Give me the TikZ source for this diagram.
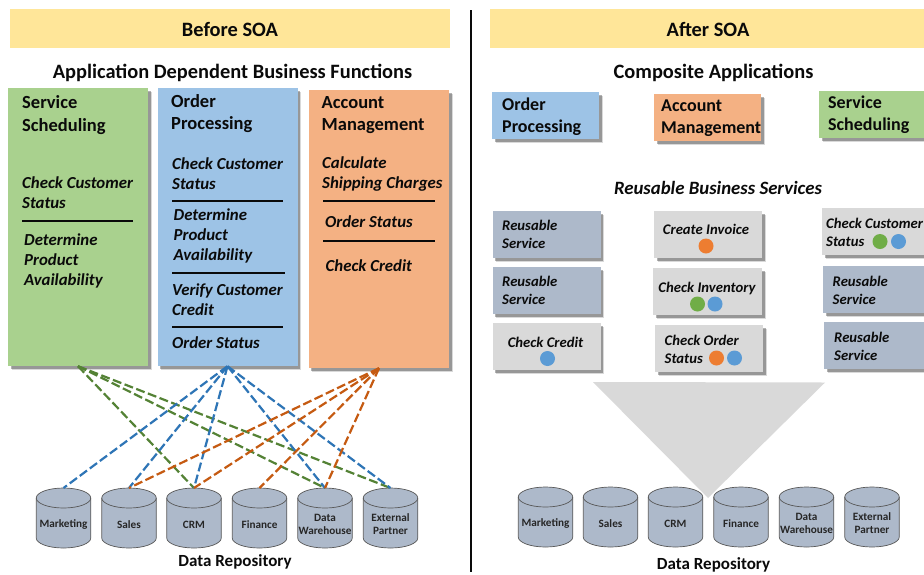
\documentclass[tikz,border=0pt]{standalone}
\usepackage{fontspec}
\setmainfont{Carlito}
\usetikzlibrary{shadows}
\definecolor{bannerc}{HTML}{FFE699}
\definecolor{greenc}{HTML}{A9D18E}
\definecolor{bluec}{HTML}{9DC3E6}
\definecolor{orangec}{HTML}{F4B183}
\definecolor{slatec}{HTML}{ADB9CA}
\definecolor{greyc}{HTML}{D9D9D9}
\definecolor{lgreen}{HTML}{548235}
\definecolor{lblue}{HTML}{2E75B6}
\definecolor{lorange}{HTML}{C55A11}
\definecolor{dgreen}{HTML}{70AD47}
\definecolor{dblue}{HTML}{5B9BD5}
\definecolor{dorange}{HTML}{ED7D31}
\definecolor{inkc}{HTML}{0A0A0A}
\tikzset{
  softshadow/.style={drop shadow={shadow xshift=3.5pt,shadow yshift=-3.5pt,opacity=.15,fill=black},
                     drop shadow={shadow xshift=2.5pt,shadow yshift=-2.5pt,opacity=.3,fill=black}},
  banner/.style={fill=bannerc,draw=none,inner sep=0pt,minimum width=#1,minimum height=39pt},
  panel/.style={softshadow,inner sep=0pt,minimum width=#1},
  heading/.style={font=\fontsize{20.4}{25}\selectfont\bfseries,text=inkc,inner sep=0pt},
  reposlabel/.style={font=\fontsize{17}{20}\selectfont\bfseries,text=inkc,inner sep=0pt},
  apphead/.style={font=\fontsize{18.5}{22.5}\selectfont\bfseries,text=inkc,inner sep=0pt,align=left,anchor=west},
  func/.style={font=\fontsize{16.8}{20}\selectfont\bfseries\itshape,text=inkc,inner sep=0pt,align=left,anchor=west},
  svc/.style={font=\fontsize{14.7}{18}\selectfont\bfseries\itshape,text=inkc,inner sep=0pt,align=left},
  divider/.style={draw=inkc,line width=1.2pt},
  dbframe/.style={inner sep=0pt,outer sep=0pt,minimum width=54.5pt,minimum height=60pt},
  dbshape/.style={draw=black!65,fill=slatec,line width=.7pt},
  dbtext/.style={inner sep=0pt,font=\fontsize{11.2}{13}\selectfont\bfseries,text=black!85,align=center},
  link/.style={dash pattern=on 9pt off 3.5pt,line width=2.2pt},
  dot/.style={circle,inner sep=0pt,minimum size=15pt,draw=none}
}
\newcommand{\dbcyl}[4]{%
  \node[dbframe] (#1) at (#2,#3) {};
  \draw[dbshape] (#1.north west) ++(0,10) arc[start angle=180,end angle=0,x radius=27.25pt,y radius=10pt]
     -- ++(0,40) arc[start angle=0,end angle=-180,x radius=27.25pt,y radius=10pt] -- cycle;
  \draw[dbshape,fill=none] (#1.north west) ++(0,10) arc[start angle=180,end angle=360,x radius=27.25pt,y radius=10pt];
  \node[dbtext] (#1t) at ([yshift=-6.5pt]#1.center) {#4};
}
\begin{document}
\begin{tikzpicture}[x=1pt,y=-1pt]
\useasboundingbox (0,0) rectangle (924,574);
\clip (0,0) rectangle (924,574);
\fill[white] (0,0) rectangle (924,574);

% banners and divider
\node[banner=440pt] (bl) at (230,28.5) {};
\node[banner=434pt] (br) at (707,28.5) {};
\node[heading] (blt) at (230,29) {Before SOA};
\node[heading] (brt) at (708,29) {After SOA};
\draw[line width=2pt,draw=inkc] (471,10) -- (471,572);
\node[heading] (lsub) at (232.5,72.5) {Application Dependent Business Functions};
\node[heading] (rsub) at (713.5,72.5) {Composite Applications};
\node[heading,font=\fontsize{18.8}{22}\selectfont\bfseries\itshape] (rsub2) at (718,187.5) {Reusable Business Services};

% left application columns
\node[panel=140pt,minimum height=278pt,fill=greenc] (green) at (78,227) {};
\node[panel=140pt,minimum height=278pt,fill=bluec] (blue) at (227.5,227) {};
\node[panel=140.5pt,minimum height=278pt,fill=orangec] (orange) at (379,229) {};

\node[apphead] (t1) at (22,115) {Service\\Scheduling};
\node[apphead] (t2) at (171,113.5) {Order\\Processing};
\node[apphead] (t3) at (321.5,115) {Account\\Management};

\node[func] (g1) at (22,192.5) {Check Customer\\Status};
\draw[divider] (22,221) -- (133,221);
\node[func] (g2) at (24,261) {Determine\\Product\\Availability};

\node[func] (b1) at (172,174) {Check Customer\\Status};
\draw[divider] (172,201) -- (283,201);
\node[func] (b2) at (173.5,236) {Determine\\Product\\Availability};
\draw[divider] (172,273) -- (285,273);
\node[func] (b3) at (172,299.5) {Verify Customer\\Credit};
\draw[divider] (172,327) -- (283,327);
\node[func] (b4) at (172,343) {Order Status};

\node[func] (o1) at (322,174.5) {Calculate\\Shipping Charges};
\draw[divider] (323,201) -- (435,201);
\node[func] (o2) at (325,222) {Order Status};
\draw[divider] (323,241) -- (435,241);
\node[func] (o3) at (325.5,266) {Check Credit};

% left databases
\dbcyl{m1}{63.5}{518}{Marketing}
\dbcyl{s1}{129}{518}{Sales}
\dbcyl{c1}{194}{518}{CRM}
\dbcyl{f1}{259.5}{518}{Finance}
\dbcyl{w1}{325}{518}{Data\\Warehouse}
\dbcyl{e1}{390.5}{518}{External\\Partner}
\node[reposlabel] (dr1) at (235,562) {Data Repository};

% connectors
\foreach \t in {c1,w1,e1} \draw[link,lgreen] (green.south) -- (\t.north);
\foreach \t in {m1,s1,c1,w1,e1} \draw[link,lblue] (blue.south) -- (\t.north);
\foreach \t in {s1,c1,f1,w1} \draw[link,lorange] (orange.south) -- (\t.north);

% right: composite applications
\node[panel=107pt,minimum height=47pt,fill=bluec] (ra) at (545.5,115.5) {};
\node[panel=107pt,minimum height=47pt,fill=orangec] (rb) at (707.5,117.5) {};
\node[panel=120pt,minimum height=47pt,fill=greenc,anchor=west] (rc) at (819,114.5) {};
\node[apphead,font=\fontsize{18}{22}\selectfont\bfseries] (rat) at (502,117) {Order\\Processing};
\node[apphead,font=\fontsize{18}{22}\selectfont\bfseries] (rbt) at (661,118.5) {Account\\Management};
\node[apphead,font=\fontsize{18}{22}\selectfont\bfseries] (rct) at (828,115) {Service\\Scheduling};

% right: services
\node[panel=108pt,minimum height=47pt,fill=slatec] (s11) at (546.7,234.5) {};
\node[panel=108pt,minimum height=47pt,fill=slatec] (s12) at (546.7,290.5) {};
\node[panel=108pt,minimum height=47pt,fill=greyc] (s13) at (546.7,346.5) {};
\node[panel=108pt,minimum height=47pt,fill=greyc] (s21) at (708,234.5) {};
\node[panel=109pt,minimum height=47pt,fill=greyc] (s22) at (707.5,291.5) {};
\node[panel=108pt,minimum height=47pt,fill=greyc] (s23) at (709,348.5) {};
\node[panel=120pt,minimum height=47pt,fill=greyc,anchor=west] (s31) at (822,231.5) {};
\node[panel=120pt,minimum height=47pt,fill=slatec,anchor=west] (s32) at (823,289.5) {};
\node[panel=120pt,minimum height=47pt,fill=slatec,anchor=west] (s33) at (824,345.5) {};

\node[svc,anchor=west] (x11) at (502,234.5) {Reusable\\Service};
\node[svc,anchor=west] (x12) at (502,290.5) {Reusable\\Service};
\node[svc] (x13) at (545.5,342.5) {Check Credit};
\node[dot,fill=dblue] (d131) at (547.5,358.5) {};
\node[svc] (x21) at (706,229.5) {Create Invoice};
\node[dot,fill=dorange] (d211) at (706,246) {};
\node[svc] (x22) at (707,288.5) {Check Inventory};
\node[dot,fill=dgreen] (d221) at (697.5,304) {};
\node[dot,fill=dblue] (d222) at (715,304) {};
\node[svc,anchor=west] (x23) at (664.5,349) {Check Order\\Status};
\node[dot,fill=dorange] (d231) at (716.5,358) {};
\node[dot,fill=dblue] (d232) at (734.5,358) {};
\node[svc,anchor=west] (x31) at (826,232) {Check Customer\\Status};
\node[dot,fill=dgreen] (d311) at (880,241.5) {};
\node[dot,fill=dblue] (d312) at (898.5,241.5) {};
\node[svc,anchor=west] (x32) at (832.5,290) {Reusable\\Service};
\node[svc,anchor=west] (x33) at (834,346) {Reusable\\Service};

% funnel
\fill[greyc] (593,382) -- (825,382.5) -- (708,498) -- cycle;

% right databases
\dbcyl{m2}{545.5}{517}{Marketing}
\dbcyl{s2}{610.5}{517}{Sales}
\dbcyl{c2}{675.5}{517}{CRM}
\dbcyl{f2}{741}{517}{Finance}
\dbcyl{w2}{806.5}{517}{Data\\Warehouse}
\dbcyl{e2}{872}{517}{External\\Partner}
\node[reposlabel] (dr2) at (713.5,565) {Data Repository};
\end{tikzpicture}
\end{document}
